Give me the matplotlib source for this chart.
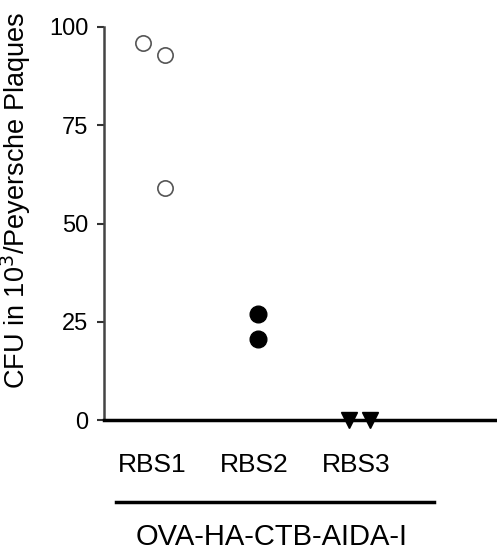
import matplotlib
matplotlib.use('Agg')
import matplotlib.pyplot as plt
from matplotlib.lines import Line2D

plt.rcParams['font.family'] = ['Liberation Sans', 'DejaVu Sans']

# Gruppen
groups = ['RBS1', 'RBS2', 'RBS3']
group_title = 'OVA-HA-CTB-AIDA-I'
y_title = 'CFU in 10$^3$/Peyersche Plaques'
y_ticks = [0, 25, 50, 75, 100]

# Einzelwerte je Gruppe (x = Gruppe + Versatz)
rbs1_x = [0.91, 1.13, 1.13]
rbs1_y = [96, 93, 59]
rbs2_x = [2.04, 2.04]
rbs2_y = [27, 20.5]
rbs3_x = [2.93, 3.14]
rbs3_y = [0, 0]

fig = plt.figure(figsize=(4.97, 5.51), dpi=100)
ax = fig.add_axes([0.209, 0.2377, 0.791, 0.7133])

ax.plot(rbs1_x, rbs1_y, 'o', ms=11, mfc='white', mec='#555555', mew=1.2, clip_on=False)
ax.plot(rbs2_x, rbs2_y, 'o', ms=12, mfc='black', mec='black', clip_on=False)
ax.plot(rbs3_x, rbs3_y, 'v', ms=12, mfc='black', mec='black', clip_on=False)

ax.set_xlim(0.53, 4.38)
ax.set_ylim(0, 100)
ax.set_yticks(y_ticks)
ax.set_yticklabels([str(v) for v in y_ticks], fontsize=17)
ax.set_xticks([1, 2, 3])
ax.set_xticklabels(groups, fontsize=19)
ax.tick_params(axis='x', length=0, pad=24)
ax.tick_params(axis='y', length=5, width=1.5, color='#333333', pad=6, direction='out')

ax.spines['top'].set_visible(False)
ax.spines['right'].set_visible(False)
ax.spines['left'].set_color('#444444')
ax.spines['left'].set_linewidth(1.8)
ax.spines['bottom'].set_linewidth(2.5)
ax.spines['bottom'].set_color('black')

# Achsentitel links (gedreht)
fig.text(16 / 497, 1 - 200 / 551, y_title, rotation=90, ha='center', va='center', fontsize=19.5)

# Linie unter den Gruppen + Gruppentitel
fig.add_artist(Line2D([116 / 497, 434 / 497], [1 - 502 / 551, 1 - 502 / 551],
                      color='black', lw=2.5))
fig.text(272 / 497, 1 - 537 / 551, group_title, ha='center', va='center', fontsize=21)

plt.savefig('out.png', dpi=100)
